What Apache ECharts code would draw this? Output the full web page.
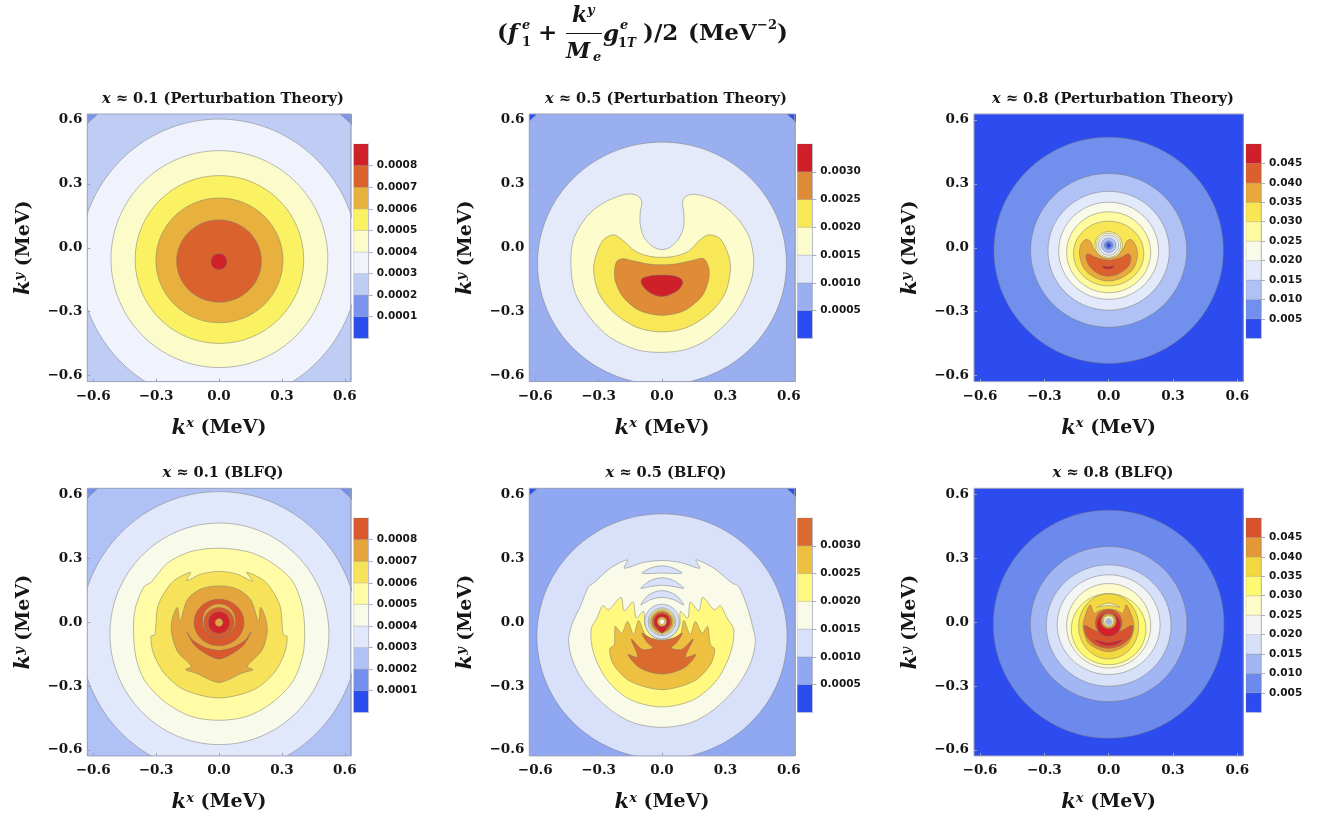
<!DOCTYPE html>
<html><head><meta charset="utf-8">
<style>html,body{margin:0;padding:0;background:#fff}#c{width:1330px;height:817px}</style>
<script src="https://cdn.jsdelivr.net/npm/echarts@6/dist/echarts.min.js"></script>
</head><body><div id="c"></div>
<script>
// ---------- data (k in MeV; band = index of the level interval) ----------
const R = 0.628;
const axisTicks = [-0.6, -0.3, 0, 0.3, 0.6];
const panelTitles = ['0.1 (Perturbation Theory)','0.5 (Perturbation Theory)','0.8 (Perturbation Theory)','0.1 (BLFQ)','0.5 (BLFQ)','0.8 (BLFQ)'];
const barMax   = [0.0009, 0.0035, 0.05, 0.0009, 0.0035, 0.05];
const barStep  = [0.0001, 0.0005, 0.005, 0.0001, 0.0005, 0.005];
const barDigits= [4, 4, 3, 4, 4, 3];
const barTicks1 = [0.0001,0.0002,0.0003,0.0004,0.0005,0.0006,0.0007,0.0008];
const barTicks2 = [0.0005,0.0010,0.0015,0.0020,0.0025,0.0030];
const barTicks3 = [0.005,0.010,0.015,0.020,0.025,0.030,0.035,0.040,0.045];
const full = [[-R-.02,-R-.02],[R+.02,-R-.02],[R+.02,R+.02],[-R-.02,R+.02]];

// entries: [band, cx, cy, rx, ry] for a round contour, [band, [[kx,ky],...]] for a traced contour
const contoursA = [
 [1, full],
 [2, 0,-.062,.90,.90],[3, 0,-.062,.666,.666],[4, .002,-.053,.517,.509],[5, .002,-.055,.402,.394],
 [6, .002,-.059,.303,.293],[7, 0,-.062,.202,.193],[8, 0,-.065,.038,.037]
];
const contoursB = [
 [0, full],[1, 0,-.07,.915,.915],[2, 0,-.073,.589,.569],
 [3, [[-.174,.251],[-.118,.246],[-.096,.218],[-.103,.164],[-.103,.109],[-.084,.047],[-.039,.003],[0,-.008],[.039,.003],[.079,.042],[.103,.101],[.103,.164],[.098,.218],[.118,.245],[.166,.25],[.261,.218],[.348,.148],[.411,.055],[.434,-.055],[.419,-.164],[.348,-.304],[.229,-.421],[.118,-.476],[0,-.491],[-.118,-.479],[-.245,-.421],[-.34,-.328],[-.411,-.211],[-.431,-.086],[-.419,.039],[-.355,.148],[-.276,.211]]],
 [4, [[-.229,.061],[-.19,.039],[-.126,-.016],[-.063,-.039],[0,-.045],[.063,-.039],[.126,-.016],[.182,.039],[.221,.061],[.276,.042],[.316,-.039],[.324,-.101],[.3,-.211],[.229,-.304],[.118,-.374],[0,-.395],[-.118,-.374],[-.229,-.304],[-.3,-.211],[-.324,-.101],[-.308,-.023],[-.276,.039]]],
 [5, [[-.185,-.051],[-.134,-.062],[-.063,-.076],[0,-.08],[.063,-.076],[.134,-.062],[.197,-.051],[.221,-.094],[.221,-.148],[.19,-.226],[.103,-.296],[0,-.317],[-.103,-.296],[-.182,-.234],[-.221,-.156],[-.224,-.101],[-.213,-.062]]],
 [6, [[-.095,-.145],[-.063,-.133],[0,-.128],[.063,-.133],[.09,-.145],[.098,-.167],[.071,-.203],[0,-.229],[-.063,-.207],[-.098,-.167]]]
];
const contoursC = [
 [0, full],[1, 0,-.012,.535,.531],[2, 0,-.012,.364,.361],[3, 0,-.014,.283,.279],[4, 0,-.014,.233,.228],
 [5, 0,-.021,.196,.19],[6, 0,-.027,.164,.152],
 [5, 0,.012,.064,.064],[4, 0,.012,.056,.056],[3, 0,.012,.047,.047],[2, 0,.012,.034,.034],[1, 0,.012,.02,.02],[0, 0,.012,.011,.011],
 [7, [[-.107,.039],[-.086,.031],[-.068,-.008],[-.037,-.039],[0,-.05],[.037,-.039],[.066,-.008],[.085,.031],[.104,.039],[.124,.016],[.135,-.031],[.116,-.097],[.062,-.14],[0,-.156],[-.063,-.14],[-.115,-.097],[-.136,-.031],[-.129,.016]]],
 [8, [[-.099,-.028],[-.055,-.047],[0,-.058],[.054,-.047],[.093,-.028],[.104,-.047],[.093,-.086],[.046,-.122],[0,-.133],[-.048,-.122],[-.09,-.086],[-.105,-.047]]],
 [9, [[-.03,-.084],[0,-.089],[.027,-.084],[.015,-.097],[0,-.1],[-.019,-.097]]]
];
const contoursD = [
 [1, full],[2, 0,-.05,.891,.891],[3, 0,-.05,.6625,.6625],[4, .002,-.055,.522,.52],
 [5, [[0,.347],[.135,.331],[.23,.292],[.325,.222],[.365,.167],[.397,.073],[.408,-.02],[.402,-.145],[.357,-.27],[.262,-.372],[.135,-.442],[0,-.461],[-.135,-.442],[-.262,-.372],[-.357,-.27],[-.397,-.161],[-.408,-.02],[-.397,.073],[-.357,.167],[-.325,.186],[-.246,.277],[-.135,.331]]],
 [6, [[-.135,.234],[-.154,.195],[-.087,.225],[0,.238],[.087,.225],[.159,.192],[.132,.234],[.214,.195],[.262,.136],[.294,.066],[.306,-.059],[.325,-.067],[.313,-.145],[.262,-.239],[.167,-.317],[0,-.356],[-.167,-.317],[-.262,-.239],[-.313,-.145],[-.325,-.067],[-.306,-.059],[-.294,.066],[-.262,.136],[-.214,.195]]],
 [7, [[0,.17],[.087,.155],[.151,.105],[.189,.003],[.198,.069],[.222,.019],[.23,-.044],[.206,-.13],[.135,-.208],[.162,-.223],[.111,-.239],[0,-.283],[-.111,-.239],[-.159,-.223],[-.132,-.208],[-.198,-.138],[-.227,-.044],[-.222,.019],[-.198,.069],[-.186,.003],[-.151,.105],[-.087,.155]]],
 [8, [[-.154,-.044],[-.119,-.106],[-.063,-.148],[0,-.173],[.063,-.148],[.119,-.106],[.154,-.044],[.127,-.083],[.071,-.117],[0,-.133],[-.071,-.117],[-.127,-.083]]],
 [8, 0,-.002,.119,.109],[7, 0,.007,.079,.079],[8, 0,-.002,.072,.07],[9, 0,-.002,.051,.051],[7, 0,-.002,.019,.019]
];
const contoursE = [
 [0, full],[1, 0,-.07,.914,.914],[2, 0,-.067,.592,.575],
 [3, [[-.163,.292],[-.179,.253],[-.087,.28],[0,.289],[.087,.28],[.179,.253],[.161,.292],[.245,.253],[.332,.183],[.363,.167],[.403,.073],[.427,-.013],[.442,-.091],[.419,-.192],[.355,-.302],[.245,-.411],[.134,-.473],[0,-.494],[-.134,-.473],[-.245,-.411],[-.355,-.302],[-.419,-.192],[-.442,-.091],[-.427,-.013],[-.387,.073],[-.347,.167],[-.324,.183],[-.245,.253]]],
 [2, [[-.095,.23],[-.047,.256],[0,.264],[.047,.256],[.095,.23],[0,.23]]],
 [2, [[-.1,.159],[-.055,.195],[0,.208],[.055,.195],[.103,.159],[.055,.167],[0,.173],[-.055,.167]]],
 [2, [[-.1,.081],[-.063,.128],[0,.148],[.063,.128],[.103,.081],[.055,.105],[0,.116],[-.055,.105]]],
 [2, 0,.002,.082,.082],
 [4, [[-.336,-.036],[-.308,.019],[-.28,.077],[-.253,.058],[-.194,.116],[-.179,.053],[-.137,.094],[-.122,.019],[-.087,.05],[-.081,-.013],[-.055,-.059],[0,-.083],[.055,-.059],[.084,-.013],[.087,.05],[.122,.019],[.134,.094],[.174,.053],[.193,.116],[.248,.058],[.276,.077],[.308,.019],[.34,-.036],[.324,-.145],[.261,-.27],[.15,-.364],[0,-.398],[-.15,-.364],[-.261,-.27],[-.324,-.145]]],
 [5, [[-.248,-.127],[-.226,-.106],[-.221,-.02],[-.19,-.052],[-.163,.003],[-.134,-.059],[-.111,.008],[-.079,-.059],[-.039,-.08],[0,-.086],[.039,-.08],[.087,-.059],[.103,.008],[.134,-.059],[.158,.003],[.19,-.052],[.216,-.02],[.229,-.106],[.25,-.127],[.229,-.2],[.15,-.278],[0,-.317],[-.15,-.278],[-.229,-.2]]],
 [6, [[-.095,-.052],[-.071,-.095],[-.044,-.122],[-.095,-.127],[-.145,-.08],[-.115,-.164],[-.161,-.153],[-.103,-.216],[0,-.244],[.103,-.216],[.16,-.153],[.111,-.164],[.147,-.08],[.095,-.127],[.043,-.122],[.071,-.095],[.095,-.052],[.055,-.075],[0,-.086],[-.055,-.075]]],
 [3, 0,.002,.065,.065],[4, 0,.002,.06,.06],[5, 0,.002,.054,.054],[6, 0,.002,.047,.047],[7, 0,.002,.038,.038],
 [7, [[-.024,-.023],[0,-.052],[.024,-.023]]],[5, 0,.002,.022,.022],[3, 0,.002,.013,.013]
];
const contoursF = [
 [0, full],[1, 0,-.01,.538,.535],[2, 0,-.009,.365,.364],[3, 0,-.016,.291,.285],[4, 0,-.012,.24,.234],
 [5, 0,-.017,.196,.198],[6, 0,-.033,.174,.167],[7, 0,-.02,.14,.153],
 [8, [[-.086,.081],[-.068,.042],[-.04,.055],[0,.061],[.038,.055],[.066,.042],[.082,.081],[.108,.027],[.118,-.028],[.088,-.102],[0,-.139],[-.09,-.102],[-.119,-.028],[-.11,.027]]],
 [5, [[-.055,.07],[0,.089],[.053,.07],[0,.078]]],
 [9, [[-.113,-.016],[-.071,-.036],[-.024,-.052],[.023,-.052],[.069,-.036],[.111,-.016],[.104,-.067],[.062,-.106],[0,-.123],[-.063,-.106],[-.102,-.067]]],
 [10,[[-.066,-.083],[0,-.097],[.065,-.083],[.038,-.103],[0,-.111],[-.04,-.103]]],
 [9, 0,-.003,.062,.062],[10, 0,-.012,.055,.055],[8, 0,.005,.036,.036],[7, 0,.005,.03,.03],[5, 0,.005,.024,.024],[3, 0,.002,.016,.016],[2, 0,.002,.009,.009]
];
const allContours = [contoursA, contoursB, contoursC, contoursD, contoursE, contoursF];
const allBarTicks = [barTicks1, barTicks2, barTicks3, barTicks1, barTicks2, barTicks3];

// ---------- style and layout ----------
const palettes = [
 ['#2a4df0','#7b94ee','#bfcdf5','#f0f3fb','#fcfccb','#fbf263','#e8b13d','#d9622d','#d0202a'],
 ['#2a4cf0','#9aaff0','#e4eafa','#fcfccd','#f8e757','#e08b35','#cf2029'],
 ['#2d4cef','#7190ee','#b0c2f5','#e2e9fa','#f9fae9','#fffba0','#f8e655','#e8a93a','#db602e','#cf2029'],
 ['#2b4cef','#7490ee','#b0c2f5','#e2e8fb','#f8faea','#fffca5','#f6e35a','#e4a63c','#d9592c','#d3232a'],
 ['#2b4cef','#90a8f2','#d8e1f9','#f9fbe8','#fff980','#eec03f','#db6a2f','#d3232a'],
 ['#2d4cef','#6c8aee','#a2b6f4','#d6e0f9','#f3f5f4','#fefcc8','#fdf970','#f4d83f','#e39736','#d8522d','#d3202a']
];
const colLeft=[87.3,529.3,974], colWidth=[263.4,265.4,269.3], rowTop=[114,488.3], plotH=267.6;
const barLeft=[353.7,797.3,1246], barTop=[144,518], barW=15, barH=194.3;
const titleX=[218,661,1108], titleY=[87,461];
const SERIF='"DejaVu Serif"', SANS='"DejaVu Sans"', INK='#161616';
const FRAME='#9aa2bb', EDGE='rgba(115,115,115,0.48)';
const nameRich={
  k:{fontFamily:SERIF,fontWeight:'bold',fontStyle:'italic',fontSize:21,color:INK},
  s:{fontFamily:SERIF,fontWeight:'bold',fontStyle:'italic',fontSize:13,color:INK,verticalAlign:'top',padding:[0,0,7,0]},
  m:{fontFamily:SERIF,fontWeight:'bold',fontSize:19,color:INK}
};
const tickFmt=v=>{const s=Math.abs(v).toFixed(1);return (v<0?'\u2212':'')+s;};

const grid=[],xAxis=[],yAxis=[],series=[],title=[];
allContours.forEach((shapes,p)=>{
  const c=p%3,r=Math.floor(p/3),pal=palettes[p],g=p*2,b=p*2+1;
  grid.push({show:true,z:6,left:colLeft[c],top:rowTop[r],width:colWidth[c],height:plotH,backgroundColor:'transparent',borderColor:FRAME,borderWidth:1});
  xAxis.push({type:'value',gridIndex:g,min:-R,max:R,z:6,position:'bottom',
    name:'{k|k}{s|x}{m| (MeV)}',nameLocation:'middle',nameGap:36,nameTextStyle:{rich:nameRich},
    axisLine:{show:false,onZero:false},splitLine:{show:false},
    axisTick:{show:true,inside:true,length:3,lineStyle:{color:FRAME},customValues:axisTicks},
    axisLabel:{show:true,customValues:axisTicks,formatter:tickFmt,margin:8,hideOverlap:false,showMinLabel:true,showMaxLabel:true,fontFamily:SERIF,fontWeight:'bold',fontSize:13.5,color:INK}});
  yAxis.push({type:'value',gridIndex:g,min:-R,max:R,z:6,position:'left',
    name:'{k|k}{s|y}{m| (MeV)}',nameLocation:'middle',nameGap:53,nameRotate:90,nameTextStyle:{rich:nameRich},
    axisLine:{show:false,onZero:false},splitLine:{show:false},
    axisTick:{show:true,inside:true,length:3,lineStyle:{color:FRAME},customValues:axisTicks},
    axisLabel:{show:true,customValues:axisTicks,formatter:tickFmt,margin:5,padding:[2,0,0,0],fontFamily:SERIF,fontWeight:'bold',fontSize:13.5,color:INK}});
  series.push({type:'custom',xAxisIndex:g,yAxisIndex:g,clip:true,silent:true,coordinateSystem:'cartesian2d',
    data:shapes.map((_,i)=>[i]),
    renderItem(params,api){
      const e=shapes[params.dataIndex];
      const style={fill:pal[e[0]],stroke:EDGE,lineWidth:1};
      if(Array.isArray(e[1])){
        return {type:'polygon',shape:{points:e[1].map(pt=>api.coord(pt)),smooth:0.3},style};
      }
      const o=api.coord([e[1],e[2]]),sz=api.size([e[3],e[4]]);
      return {type:'ellipse',shape:{cx:o[0],cy:o[1],rx:sz[0],ry:sz[1]},style};
    }});
  // colour bar
  const lo=pal.slice(0,Math.round(barMax[p]/barStep[p])).map((_,i)=>i);
  grid.push({show:false,left:barLeft[c],top:barTop[r],width:barW,height:barH});
  xAxis.push({type:'value',gridIndex:b,min:0,max:1,show:false});
  yAxis.push({type:'value',gridIndex:b,min:0,max:barMax[p],interval:barStep[p],position:'right',z:6,
    axisLine:{show:true,onZero:false,lineStyle:{color:'#b9bdc9'}},splitLine:{show:false},
    axisTick:{show:true,length:4,lineStyle:{color:'#a9adb9'},customValues:allBarTicks[p]},
    axisLabel:{show:true,customValues:allBarTicks[p],formatter:v=>v.toFixed(barDigits[p]),margin:8,padding:[2,0,0,0],fontFamily:SANS,fontWeight:'bold',fontSize:10.5,color:INK}});
  series.push({type:'custom',xAxisIndex:b,yAxisIndex:b,silent:true,coordinateSystem:'cartesian2d',
    data:lo.map(i=>[i]),
    renderItem(params,api){
      const i=params.dataIndex,a=api.coord([0,(i+1)*barStep[p]]),z=api.coord([1,i*barStep[p]]);
      return {type:'rect',shape:{x:a[0],y:a[1],width:z[0]-a[0],height:z[1]-a[1]},style:{fill:pal[i],stroke:'rgba(120,120,120,0.35)',lineWidth:0.6}};
    }});
  title.push({text:'{i|x} \u2248 '+panelTitles[p],left:titleX[c],top:titleY[r],textAlign:'center',
    textStyle:{fontFamily:SERIF,fontWeight:'bold',fontSize:14.6,color:INK,
      rich:{i:{fontFamily:SERIF,fontWeight:'bold',fontStyle:'italic',fontSize:14.6,color:INK}}}});
});

// main heading, piece by piece
const heading=[
 ['(',497,36,23,0],['f',508,36,23,1],['e',522,27,13,1],['1',522,44,13,0],['+',538,36,23,0],
 ['k',572,18,22,1],['y',587,12,13,1],['M',566,54,22,1],['e',593,59,13,1],
 ['g',603,37,23,1],['e',620,27,13,1],['1',618,45,13,0],['T',627,45,12,1],
 [')/2',643,36,23,0],['(MeV',688,36,23,0],['\u22122',757,27,13,0],[')',777,36,23,0]
];
const graphic=heading.map(h=>({type:'text',left:h[1],top:h[2]-h[3]*0.58,z:20,silent:true,
  style:{text:h[0],fontFamily:SERIF,fontWeight:'bold',fontStyle:h[4]?'italic':'normal',fontSize:h[3],fill:INK}}));
graphic.push({type:'rect',left:566,top:33,z:20,silent:true,shape:{width:36,height:1},style:{fill:INK}});

const chart=echarts.init(document.getElementById('c'),null,{renderer:'canvas'});
chart.setOption({animation:false,backgroundColor:'#fff',title,grid,xAxis,yAxis,series,graphic});
</script></body></html>
